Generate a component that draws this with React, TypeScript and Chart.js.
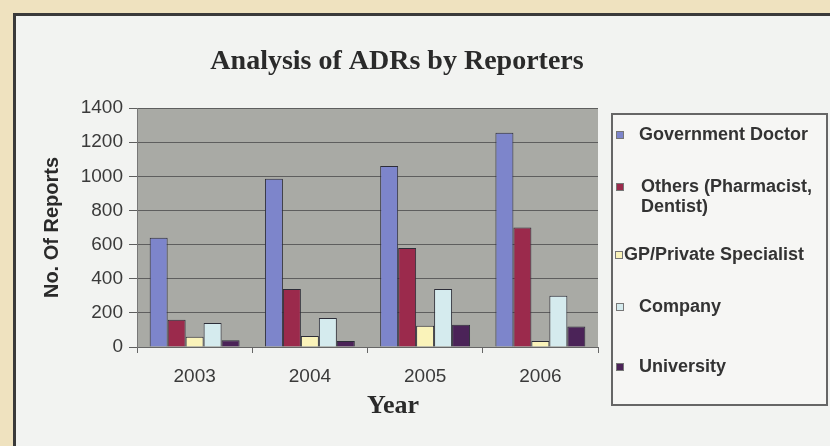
import React, { useEffect, useRef } from "react";
import { Chart, registerables } from "chart.js";

Chart.register(...registerables);

const categories = ["2003", "2004", "2005", "2006"];
const governmentDoctor = [640, 985, 1060, 1255];
const othersPharmacistDentist = [160, 340, 580, 700];
const gpPrivateSpecialist = [60, 65, 125, 35];
const company = [140, 170, 340, 300];
const university = [40, 35, 130, 120];
const yTickValues = [0, 200, 400, 600, 800, 1000, 1200, 1400];

const seriesNames = [
  "Government Doctor",
  "Others (Pharmacist, Dentist)",
  "GP/Private Specialist",
  "Company",
  "University",
];
const legendLines = [
  ["Government Doctor"],
  ["Others (Pharmacist,", "Dentist)"],
  ["GP/Private Specialist"],
  ["Company"],
  ["University"],
];
const chartTitle = "Analysis of ADRs by Reporters";
const xTitle = "Year";
const yTitle = "No. Of Reports";

const seriesColors = ["#7d85cb", "#9b2a4c", "#faf3ba", "#d5ebee", "#4b2358"];
const legendLayout = [
  { y: 135, sx: 616, tx: 639 },
  { y: 187, sx: 616, tx: 641 },
  { y: 255, sx: 615, tx: 624 },
  { y: 307, sx: 616, tx: 639 },
  { y: 367, sx: 616, tx: 639 },
];

const plotBgPlugin = {
  id: "plotBg",
  beforeDraw(chart: any) {
    const { ctx, chartArea } = chart;
    ctx.save();
    ctx.fillStyle = "#a9aaa5";
    ctx.fillRect(chartArea.left, chartArea.top, chartArea.right - chartArea.left, chartArea.bottom - chartArea.top);
    ctx.restore();
  },
};

const textPlugin = {
  id: "texts",
  afterDraw(chart: any) {
    const { ctx } = chart;
    ctx.save();
    ctx.fillStyle = "#2a2a2a";
    ctx.textAlign = "center";
    ctx.textBaseline = "middle";
    ctx.font = "bold 28px 'Liberation Serif'";
    ctx.fillText(chartTitle, 397, 62);
    ctx.font = "bold 26px 'Liberation Serif'";
    ctx.fillText(xTitle, 393, 406);

    // legend box
    ctx.fillStyle = "#f6f6f4";
    ctx.fillRect(612, 114, 215, 291);
    ctx.strokeStyle = "#666";
    ctx.lineWidth = 2;
    ctx.strokeRect(612, 114, 215, 291);
    ctx.textAlign = "left";
    ctx.font = "bold 18px 'Liberation Sans'";
    chart.data.datasets.forEach((ds: any, i: number) => {
      const lay = legendLayout[i];
      ctx.fillStyle = ds.backgroundColor;
      ctx.fillRect(lay.sx, lay.y - 4, 8, 8);
      ctx.strokeStyle = "#777";
      ctx.lineWidth = 1;
      ctx.strokeRect(lay.sx + 0.5, lay.y - 3.5, 7, 7);
      ctx.fillStyle = "#333";
      legendLines[i].forEach((line, j) => {
        ctx.fillText(line, lay.tx, lay.y + j * 20);
      });
    });
    ctx.restore();
  },
};

export default function App() {
  const ref = useRef<HTMLCanvasElement>(null);
  useEffect(() => {
    document.body.style.margin = "0";
    const series = [governmentDoctor, othersPharmacistDentist, gpPrivateSpecialist, company, university];
    const chart = new Chart(ref.current!, {
      type: "bar",
      data: {
        labels: categories,
        datasets: series.map((data, i) => ({
          label: seriesNames[i],
          data,
          backgroundColor: seriesColors[i],
          borderColor: "#2d2d38",
          borderWidth: 1,
          categoryPercentage: 0.78,
          barPercentage: 1.0,
        })),
      },
      options: {
        animation: false,
        responsive: false,
        layout: { padding: { left: 32, right: 232, top: 108, bottom: 59 } },
        plugins: { legend: { display: false }, title: { display: false }, tooltip: { enabled: false } },
        scales: {
          x: {
            grid: { drawOnChartArea: false, drawTicks: true, tickLength: 6, color: "#666", offset: true },
            border: { color: "#666", width: 1 },
            ticks: { color: "#3a3a3a", font: { family: "'Liberation Sans'", size: 19 }, padding: 12 },
            afterFit: (s: any) => { s.height = 40; },
          },
          y: {
            min: 0,
            max: 1400,
            afterBuildTicks: (s: any) => { s.ticks = yTickValues.map((v) => ({ value: v })); },
            grid: { color: "#5e5e5e", lineWidth: 1, tickLength: 8, drawTicks: true },
            border: { color: "#777", width: 1 },
            ticks: {
              color: "#3a3a3a",
              font: { family: "'Liberation Sans'", size: 19 },
              padding: 6,
              callback: (v: any) => String(v),
            },
            title: {
              display: true,
              text: yTitle,
              color: "#2a2a2a",
              font: { family: "'Liberation Sans'", size: 20, weight: "bold" },
              padding: { top: 8, bottom: 0 },
            },
            afterFit: (s: any) => { s.width = 105; },
          },
        },
      },
      plugins: [plotBgPlugin, textPlugin],
    });
    return () => chart.destroy();
  }, []);

  return (
    <div style={{ position: "relative", width: 830, height: 446, background: "#efe2bf", overflow: "hidden" }}>
      <div
        style={{
          position: "absolute",
          left: 13,
          top: 13,
          right: 0,
          bottom: 0,
          background: "#f2f3f1",
          borderTop: "3px solid #3a3a3a",
          borderLeft: "3px solid #3a3a3a",
        }}
      />
      <canvas ref={ref} width={830} height={446} style={{ position: "absolute", left: 0, top: 0 }} />
    </div>
  );
}
